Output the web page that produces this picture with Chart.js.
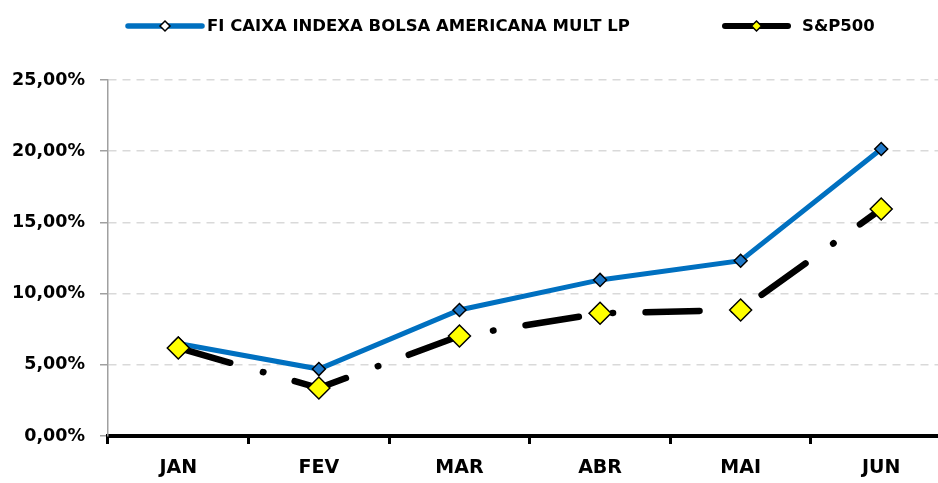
<!DOCTYPE html>
<html>
<head>
<meta charset="utf-8">
<script src="https://cdn.jsdelivr.net/npm/chart.js@4/dist/chart.umd.min.js"></script>
<style>
  html, body { margin: 0; padding: 0; background: #fff; overflow: hidden; }
  #wrap { width: 938px; height: 483px; overflow: hidden; position: relative; }
  canvas { display: block; }
</style>
</head>
<body>
<div id="wrap"><canvas id="c" width="964" height="483"></canvas></div>
<script>
const categories = ['JAN', 'FEV', 'MAR', 'ABR', 'MAI', 'JUN'];
const fundLabel = 'FI CAIXA INDEXA BOLSA AMERICANA MULT LP';
const fundValues = [6.50, 4.70, 8.85, 10.96, 12.31, 20.15];
const spLabel = 'S&P500';
const spValues = [6.18, 3.37, 7.02, 8.62, 8.85, 15.94];
const yTicks = [0, 5, 10, 15, 20, 25];

const FONT = 'DejaVu Sans';

const legendPlugin = {
  id: 'customLegend',
  afterDraw(chart) {
    const ctx = chart.ctx;
    const ds = chart.data.datasets;
    const items = [
      { x0: 128, x1: 202, tx: 207, lw: 5.5 },
      { x0: 725, x1: 788, tx: 802, lw: 6 }
    ];
    const y = 26;
    ctx.save();
    items.forEach((it, i) => {
      const d = ds[i];
      ctx.beginPath();
      ctx.lineCap = 'round';
      ctx.lineWidth = it.lw;
      ctx.strokeStyle = d.borderColor;
      ctx.setLineDash([]);
      ctx.moveTo(it.x0, y);
      ctx.lineTo(it.x1, y);
      ctx.stroke();
      const cx = (it.x0 + it.x1) / 2;
      const r = 5;
      ctx.beginPath();
      ctx.moveTo(cx, y - r);
      ctx.lineTo(cx + r, y);
      ctx.lineTo(cx, y + r);
      ctx.lineTo(cx - r, y);
      ctx.closePath();
      ctx.fillStyle = i === 0 ? '#ffffff' : d.pointBackgroundColor;
      ctx.fill();
      ctx.lineWidth = 1.5;
      ctx.strokeStyle = '#000';
      ctx.stroke();
      ctx.fillStyle = '#000';
      ctx.font = 'bold 16.5px "' + FONT + '"';
      ctx.textBaseline = 'middle';
      ctx.textAlign = 'left';
      ctx.fillText(d.label, it.tx, y + 1);
    });
    ctx.restore();
  }
};

new Chart(document.getElementById('c'), {
  type: 'line',
  data: {
    labels: categories,
    datasets: [
      {
        label: fundLabel,
        data: fundValues,
        borderColor: '#0070C0',
        borderWidth: 5,
        tension: 0,
        pointStyle: 'rectRot',
        pointRadius: 6.5,
        pointHoverRadius: 6.5,
        pointBackgroundColor: '#1F78C8',
        pointBorderColor: '#000',
        pointBorderWidth: 1.5,
        order: 1
      },
      {
        label: spLabel,
        data: spValues,
        borderColor: '#000000',
        borderWidth: 6.5,
        borderDash: [54, 34, 0.5, 32.5],
        borderCapStyle: 'round',
        tension: 0,
        pointStyle: 'rectRot',
        pointRadius: 11,
        pointHoverRadius: 11,
        pointBackgroundColor: '#FFFF00',
        pointBorderColor: '#000',
        pointBorderWidth: 1.5,
        order: 0
      }
    ]
  },
  options: {
    responsive: false,
    animation: false,
    devicePixelRatio: 1,
    layout: { padding: { top: 80, right: 0, bottom: 0, left: 0 } },
    plugins: { legend: { display: false }, tooltip: { enabled: false } },
    scales: {
      x: {
        offset: true,
        grid: {
          offset: true,
          drawOnChartArea: false,
          drawTicks: true,
          tickLength: 8,
          tickWidth: 3,
          tickColor: '#000'
        },
        border: { display: true, color: '#000', width: 4 },
        ticks: {
          color: '#000',
          font: { family: FONT, weight: 'bold', size: 19 },
          padding: 13,
          maxRotation: 0
        },
        afterFit(scale) { scale.height = 47; }
      },
      y: {
        min: 0,
        max: 25,
        afterBuildTicks(scale) { scale.ticks = yTicks.map(v => ({ value: v })); },
        ticks: {
          color: '#000',
          font: { family: FONT, weight: 'bold', size: 17.5 },
          padding: 15,
          callback: v => Number(v).toFixed(2).replace('.', ',') + '%'
        },
        grid: {
          color: '#D9D9D9',
          lineWidth: 1.5,
          tickLength: 8,
          tickColor: '#A0A0A0',
          tickWidth: 1.5,
          tickBorderDash: []
        },
        border: { display: true, color: '#A0A0A0', width: 1.5, dash: [8, 6] },
        afterFit(scale) { scale.width = 108; }
      }
    }
  },
  plugins: [legendPlugin]
});
</script>
</body>
</html>
